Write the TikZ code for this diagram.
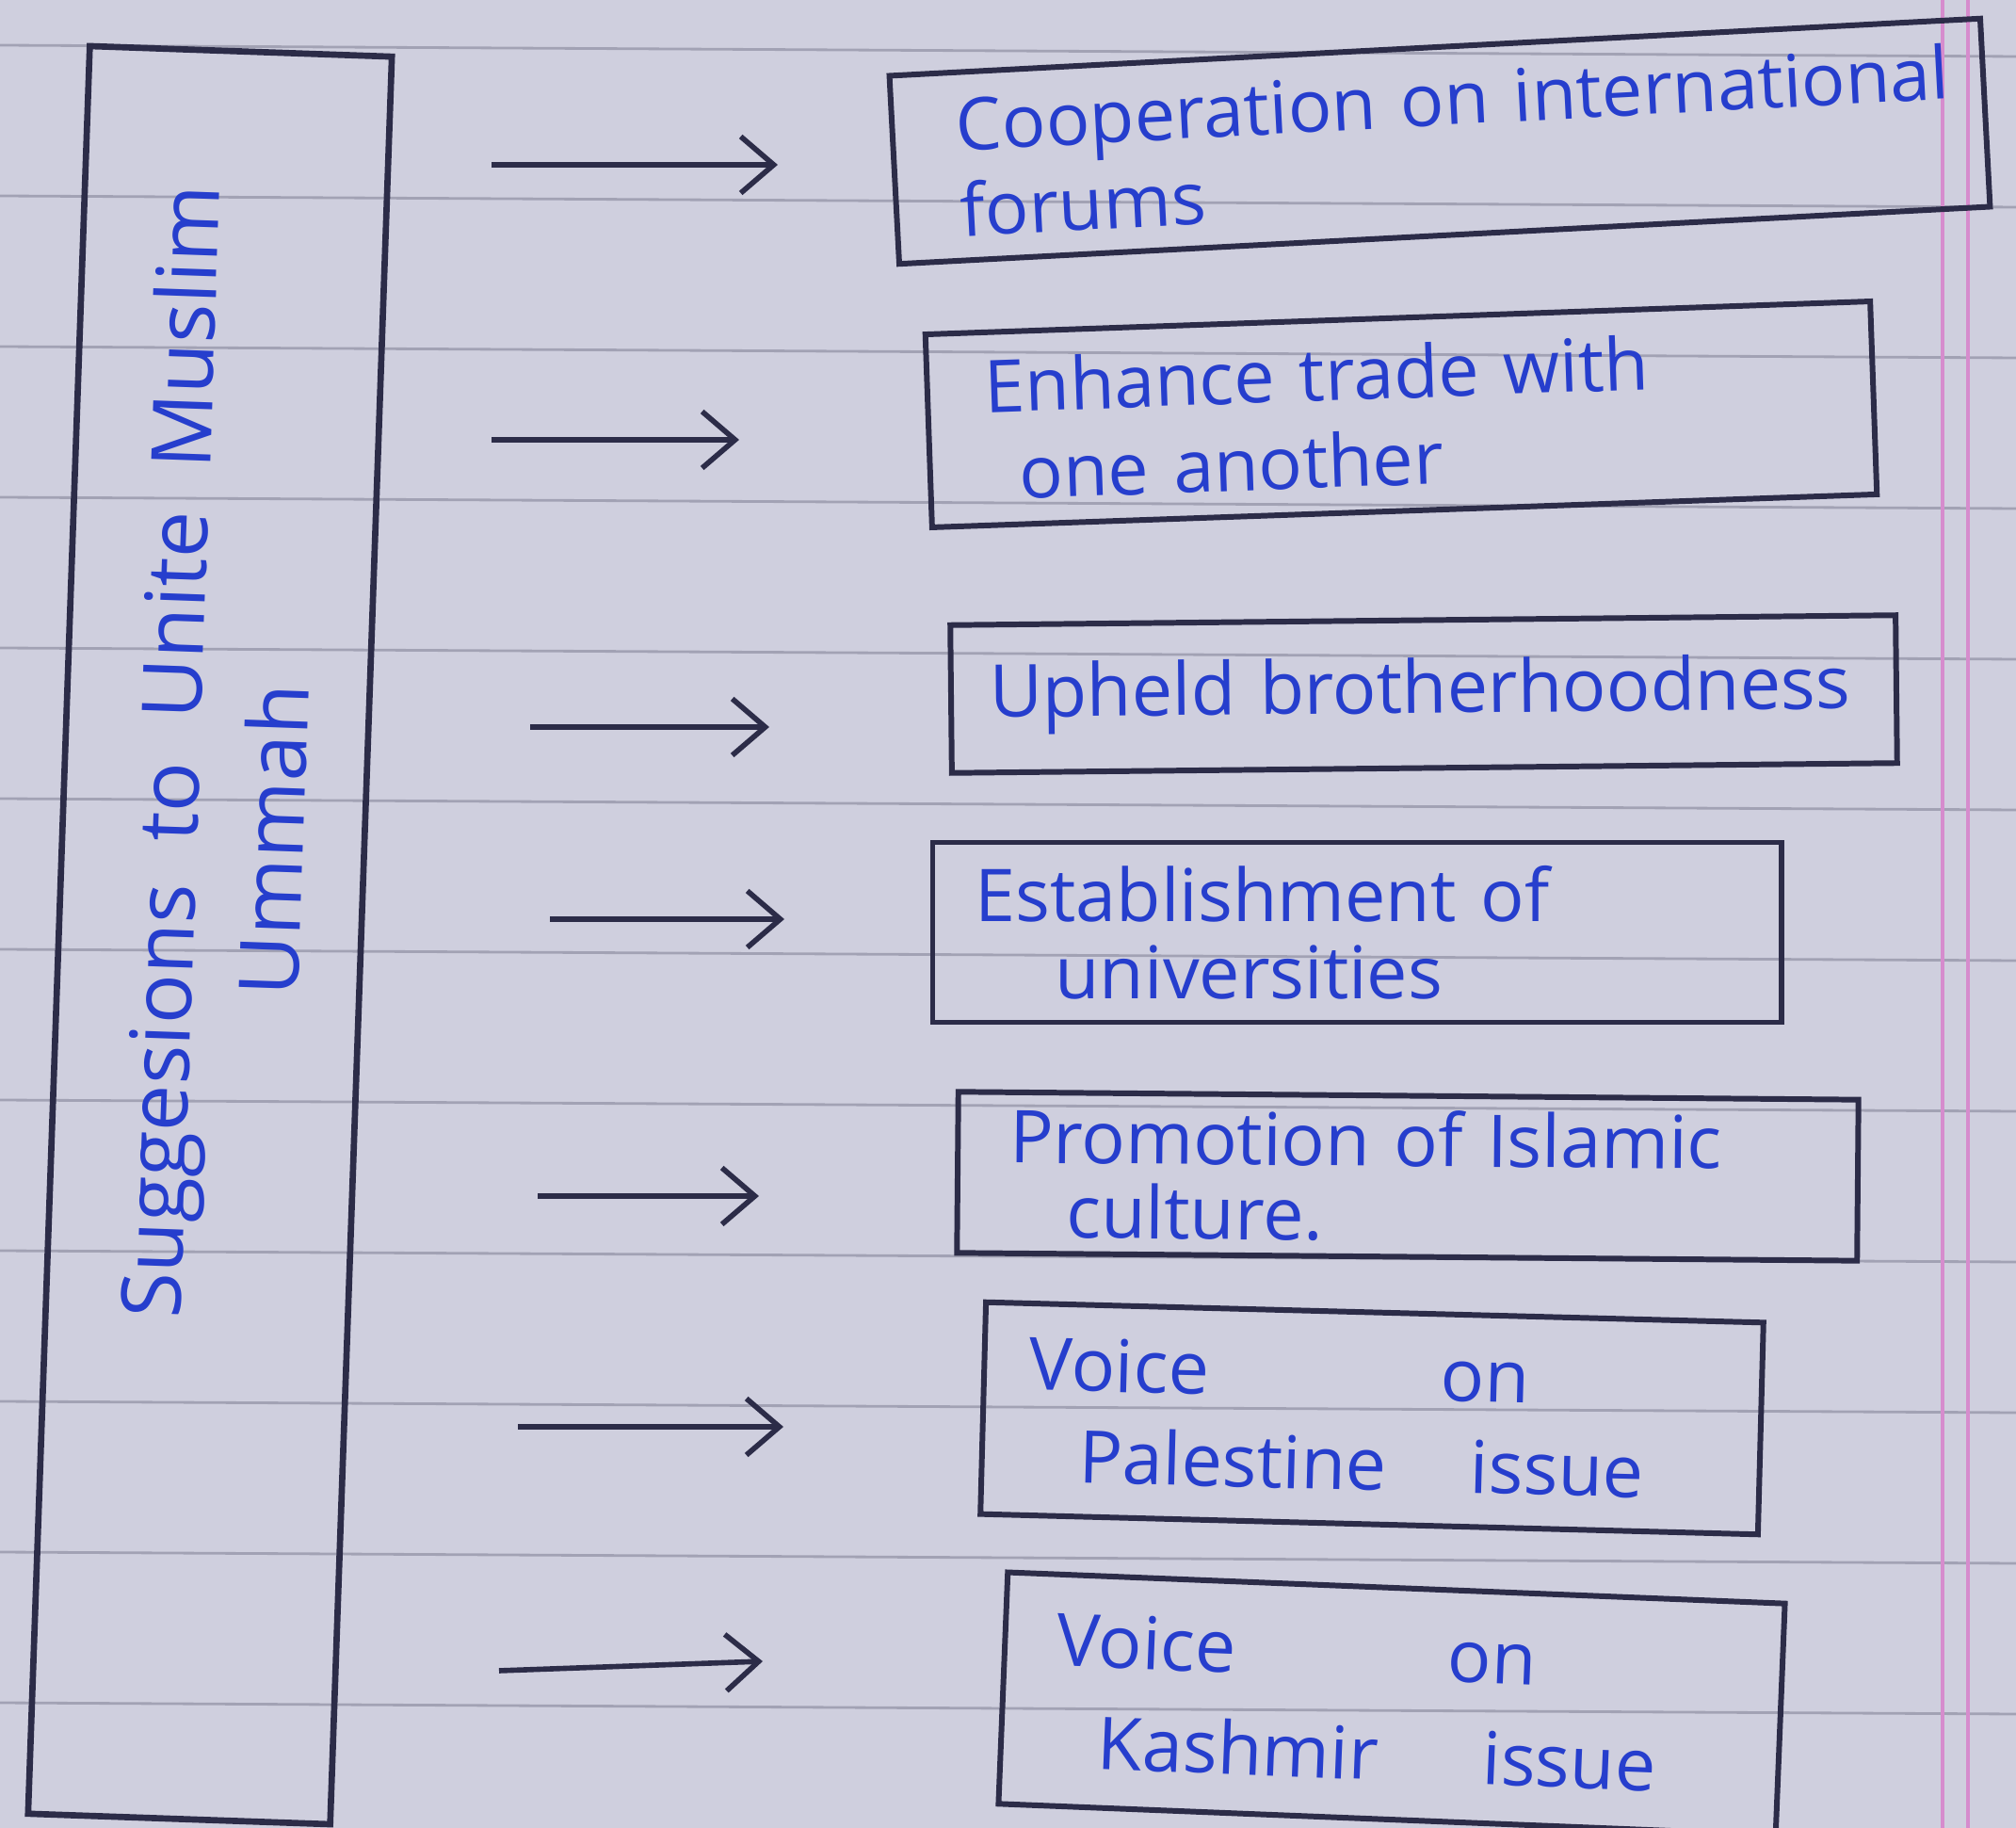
\documentclass[tikz,border=0pt]{standalone}
\usepackage{fontspec}
\setmainfont{Open Sans}[WordSpace=2]
\usetikzlibrary{arrows.meta}

\definecolor{paper}{RGB}{207,207,222}
\definecolor{ruling}{RGB}{162,162,180}
\definecolor{margin}{RGB}{214,140,205}
\definecolor{ink}{RGB}{38,62,205}
\definecolor{pen}{RGB}{44,44,72}

\tikzset{
  idea/.style={draw=pen, line width=1.7pt, rectangle, align=left, text=ink,
    font=\fontsize{22}{22}\selectfont, inner ysep=0pt},
  flow/.style={->, >={Straight Barb[length=3.5mm,width=6mm]}, draw=pen, line width=1.6pt},
}

\begin{document}
\begin{tikzpicture}
    \useasboundingbox (0,0) rectangle (21.41,-19.41);
    % ruled paper
    \fill [paper] (0,0) rectangle (21.41,-19.41);
    \foreach \i in {0,...,11}
        \draw [ruling, line width=0.8pt] (0,{-0.48-1.6*\i}) -- (21.41,{-0.60-1.6*\i});
    \draw [margin, line width=1.2pt] (20.63,0) -- (20.63,-19.41);
    \draw [margin, line width=1.2pt] (20.90,0) -- (20.90,-19.41);

    % left box
    \node (main) at (2.23,-9.93) [draw=pen, line width=1.9pt, rotate=-2, minimum width=3.21cm, minimum height=18.78cm] {};
    \node (title) at (2.36,-8.0) [rotate=88, text=ink, align=center, font=\fontsize{25}{25}\selectfont] {Suggesions to Unite Muslim\\[0.25cm]Ummah\hspace*{1.8cm}};

    % suggestions
    \node (b1) at (15.29,-1.50) [idea, rotate=3, minimum height=2.0cm, inner xsep=0.68cm, text width=10.24cm] {\mbox{Cooperation on international}\\[0.1cm]forums};
    \node (b2) at (14.88,-4.40) [idea, rotate=2, minimum height=2.05cm, inner xsep=0.61cm, text width=8.82cm] {\mbox{Enhance trade with}\\[0.15cm]\hspace*{0.34cm}one another};
    \node (b3) at (15.12,-7.37) [idea, rotate=0.6, minimum height=1.57cm, inner xsep=0.41cm, text width=9.22cm] {\mbox{Upheld brotherhoodness}};
    \node (b4) at (14.41,-9.90) [idea, minimum height=1.91cm, inner xsep=0.45cm, text width=8.11cm] {\mbox{Establishment of}\\[0.05cm]\hspace*{0.85cm}universities};
    \node (b5) at (14.95,-12.49) [idea, rotate=-0.5, minimum height=1.71cm, inner xsep=0.55cm, text width=8.46cm] {\mbox{Promotion of Islamic}\\[0.02cm]\hspace*{0.61cm}culture.};
    \node (b6) at (14.57,-15.06) [idea, rotate=-1.5, minimum height=2.25cm, inner xsep=0.48cm, text width=7.30cm] {\makebox[4.37cm][l]{Voice}on\\[0.2cm]\hspace*{0.55cm}\makebox[4.16cm][l]{Palestine}issue};
    \node (b7) at (14.78,-18.09) [idea, rotate=-2.3, minimum height=2.46cm, inner xsep=0.55cm, text width=7.16cm] {\makebox[4.16cm][l]{Voice}on\\[0.3cm]\hspace*{0.48cm}\makebox[4.09cm][l]{Kashmir}issue};

    % arrows
    \foreach \i/\xa/\ya/\xb/\yb in {1/5.22/-1.75/8.26/-1.75, 2/5.22/-4.67/7.85/-4.67,
        3/5.63/-7.72/8.17/-7.72, 4/5.84/-9.76/8.33/-9.76, 5/5.71/-12.70/8.06/-12.70,
        6/5.50/-15.15/8.32/-15.15, 7/5.30/-17.74/8.10/-17.64} {
        \coordinate (from\i) at (\xa,\ya);
        \coordinate (to\i) at (\xb,\yb);
        \draw [flow] (from\i) -- (to\i);
    }
\end{tikzpicture}
\end{document}
